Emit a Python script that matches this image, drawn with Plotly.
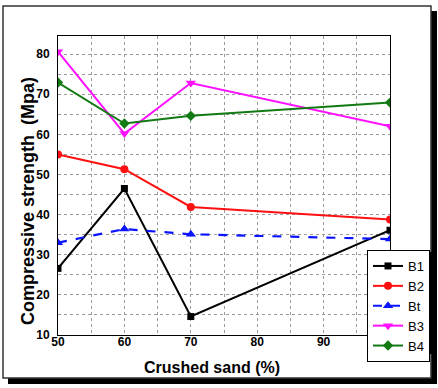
import plotly.graph_objects as go

# crushed sand content (%)
sand = [50, 60, 70, 100]

# compressive strength (MPa) per mix
b1 = [26.6, 46.5, 14.6, 36.1]
b2 = [55.0, 51.3, 41.9, 38.8]
bt = [33.0, 36.4, 35.1, 33.9]
b3 = [80.6, 60.2, 72.8, 62.0]
b4 = [72.9, 62.7, 64.6, 67.9]

W, H = 438, 388
L, R, T, B = 58, 48, 36, 53


def px(x):
    return (x - L) / (W - L - R)


def py(y):
    return (H - B - y) / (H - T - B)


fig = go.Figure()
fig.add_trace(go.Scatter(x=sand, y=b1, name='B1', mode='lines+markers',
                         line=dict(color='black', width=2),
                         marker=dict(symbol='square', size=7)))
fig.add_trace(go.Scatter(x=sand, y=b2, name='B2', mode='lines+markers',
                         line=dict(color='#ff1010', width=2),
                         marker=dict(symbol='circle', size=8)))
fig.add_trace(go.Scatter(x=sand, y=bt, name='Bt', mode='lines+markers',
                         line=dict(color='#0a14ff', width=2.2, dash='dash'),
                         marker=dict(symbol='triangle-up', size=9)))
fig.add_trace(go.Scatter(x=sand, y=b3, name='B3', mode='lines+markers',
                         line=dict(color='#ff10ff', width=2),
                         marker=dict(symbol='triangle-down', size=9)))
fig.add_trace(go.Scatter(x=sand, y=b4, name='B4', mode='lines+markers',
                         line=dict(color='#127a12', width=2),
                         marker=dict(symbol='diamond', size=8)))

narrow = 'Liberation Sans Narrow, Liberation Sans, Arial'
tickfont = dict(family=narrow, size=12, color='black', weight='bold')
grid = dict(showgrid=True, gridcolor='#999999', gridwidth=1, griddash='dot')

fig.update_xaxes(range=[50, 100], tickvals=[50, 60, 70, 80, 90], tickfont=tickfont,
                 showline=True, linecolor='black', linewidth=1, mirror=True,
                 ticks='', zeroline=False, ticklabelstandoff=-4,
                 minor=dict(dtick=5, tick0=0, **grid), **grid)
fig.update_yaxes(range=[10, 84.5], dtick=10, tickfont=tickfont,
                 showline=True, linecolor='black', linewidth=1, mirror=True,
                 ticks='', zeroline=False, ticklabelstandoff=5,
                 minor=dict(dtick=5, tick0=0, **grid), **grid)

shapes = [
    # drop shadow of the frame
    dict(type='rect', xref='paper', yref='paper', layer='below',
         x0=px(8), x1=px(437), y0=py(11), y1=py(384),
         fillcolor='black', line=dict(width=0)),
    # white frame
    dict(type='rect', xref='paper', yref='paper', layer='below',
         x0=px(3), x1=px(431), y0=py(6), y1=py(378),
         fillcolor='white', line=dict(color='#333333', width=1.5)),
    # legend shadow
    dict(type='rect', xref='paper', yref='paper', layer='below',
         x0=px(369), x1=px(432), y0=py(252), y1=py(354),
         fillcolor='black', line=dict(width=0)),
]

annotations = [
    dict(text='<b>Compressive strength  (Mpa)</b>', xref='paper', yref='paper',
         x=px(28), y=py(201), textangle=-90, showarrow=False,
         xanchor='center', yanchor='middle',
         font=dict(family='Liberation Sans, Arial', size=18, color='black')),
    dict(text='<b>Crushed sand (%)</b>', xref='paper', yref='paper',
         x=px(212), y=py(367), showarrow=False,
         xanchor='center', yanchor='middle',
         font=dict(family=narrow, size=16, color='black')),
]

fig.update_layout(
    width=W, height=H,
    margin=dict(l=L, r=R, t=T, b=B, autoexpand=False),
    paper_bgcolor='white', plot_bgcolor='white',
    shapes=shapes, annotations=annotations,
    legend=dict(x=px(367), y=py(250), xanchor='left', yanchor='top',
                bgcolor='white', bordercolor='black', borderwidth=1,
                font=dict(family=narrow, size=13, color='black'),
                tracegroupgap=0, itemwidth=30),
    showlegend=True,
)

# page body margin would shift the figure by 8px
fig.write_html('out.html', config={'displayModeBar': False},
               post_script="document.body.style.margin='0';")
